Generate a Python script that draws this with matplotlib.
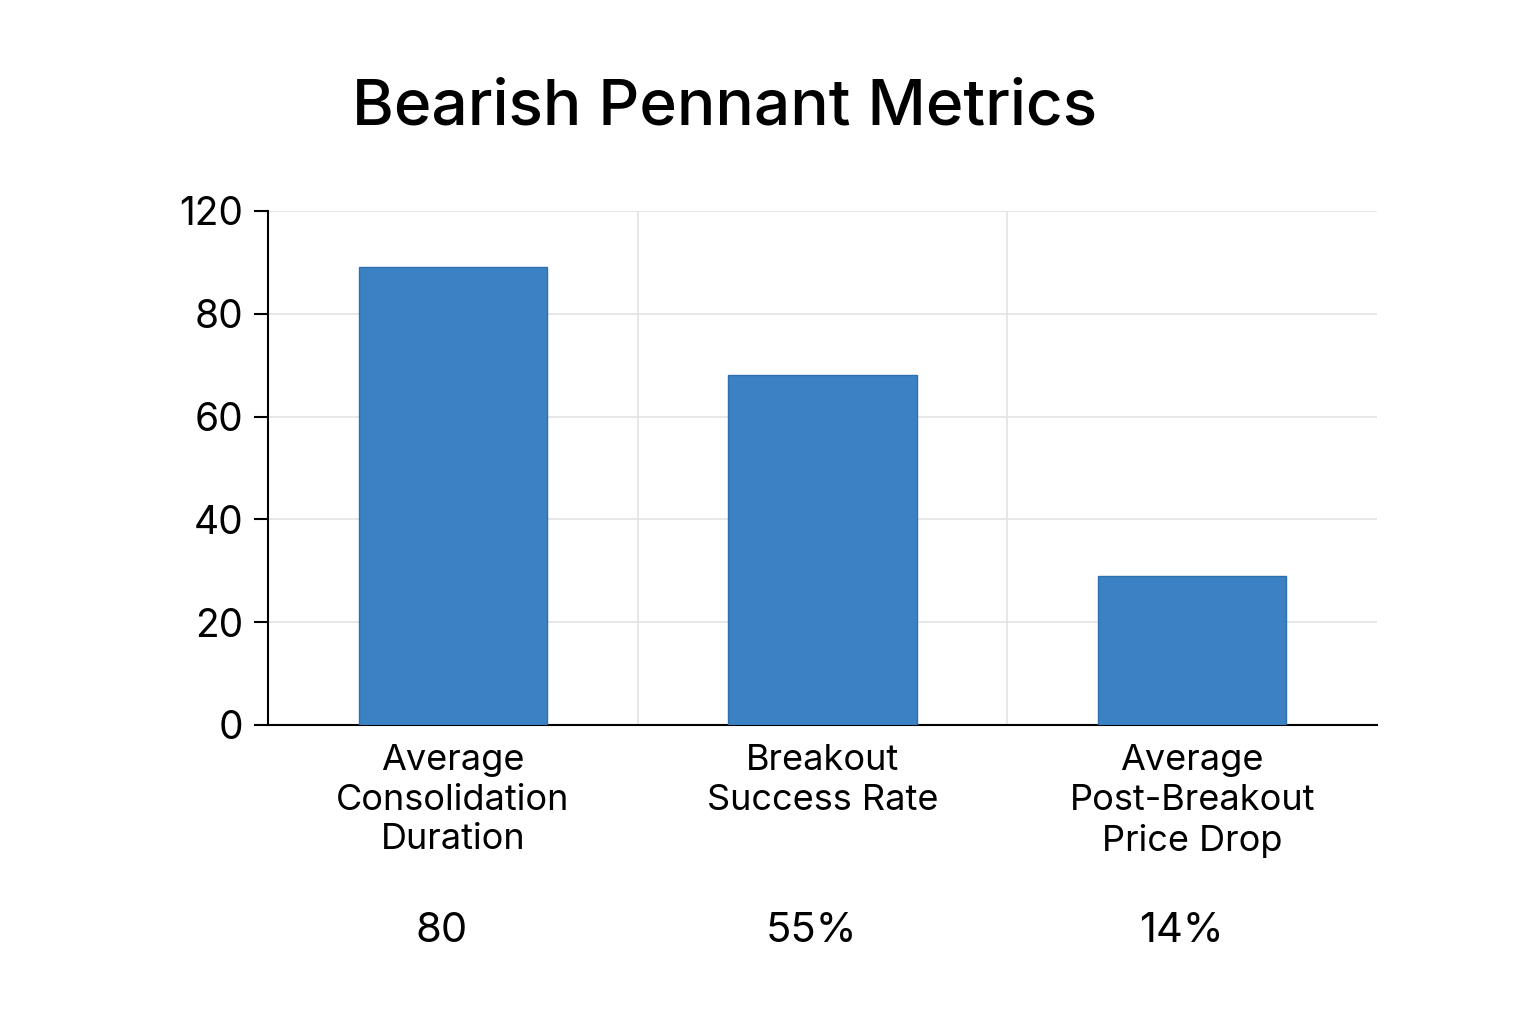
import matplotlib
matplotlib.use("Agg")
import matplotlib.pyplot as plt

categories = ["Average\nConsolidation\nDuration", "Breakout\nSuccess Rate", "Average\nPost-Breakout\nPrice Drop"]
bar_values = [89, 68, 29]
value_labels = ["80", "55%", "14%"]
tick_values = [0, 20, 40, 60, 80, 100]
tick_labels = ["0", "20", "40", "60", "80", "120"]

plt.rcParams["font.family"] = "Inter"
fig = plt.figure(figsize=(15.36, 10.24), dpi=100)
ax = fig.add_axes([0.1745, 0.292, 0.722, 0.502])
x = list(range(len(categories)))
ax.bar(x, bar_values, width=0.51, color="#3b82c4", edgecolor="#2f6fae", linewidth=1, zorder=3)
ax.set_xlim(-0.5, 2.5)
ax.set_ylim(0, 100)
ax.set_yticks(tick_values)
ax.set_yticklabels(tick_labels, fontsize=28)
ax.set_xticks(x)
ax.set_xticklabels(categories, fontsize=26, linespacing=1.25)
ax.tick_params(axis="x", length=0, pad=14)
ax.tick_params(axis="y", length=10, width=1.5, pad=8)
for gy in tick_values[1:]:
    ax.axhline(gy, color="#e3e3e3", lw=1.2, zorder=0)
for gx in [0.5, 1.5]:
    ax.axvline(gx, color="#e3e3e3", lw=1.2, zorder=0)
for s in ["top", "right"]:
    ax.spines[s].set_visible(False)
ax.spines["left"].set_linewidth(1.5)
ax.spines["bottom"].set_linewidth(1.5)
for xi, lbl in zip(x, value_labels):
    ax.text(xi - 0.03, -40, lbl, ha="center", va="center", fontsize=30, transform=ax.transData, clip_on=False)
fig.text(0.472, 0.895, "Bearish Pennant Metrics", ha="center", va="center", fontsize=46, fontweight="medium")
fig.savefig("out.png", dpi=100, facecolor="white")
